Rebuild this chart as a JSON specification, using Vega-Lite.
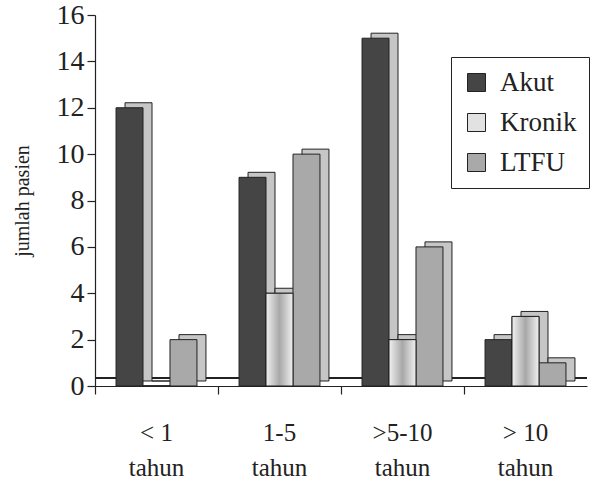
{
  "$schema": "https://vega.github.io/schema/vega-lite/v6.json",
  "width": 492,
  "height": 371,
  "autosize": {"type": "none"},
  "padding": {"left": 95, "top": 15, "right": 9, "bottom": 93},
  "background": "white",
  "config": {
    "view": {"stroke": null},
    "axis": {"domainColor": "#222", "tickColor": "#222", "labelColor": "#222", "titleColor": "#222", "grid": false, "tickSize": 8, "domainWidth": 1.2, "tickWidth": 1.2}
  },
  "data": {
    "values": [
      {"kelompok": "< 1", "seri": "Akut", "jumlah": 12},
      {"kelompok": "< 1", "seri": "Kronik", "jumlah": 0},
      {"kelompok": "< 1", "seri": "LTFU", "jumlah": 2},
      {"kelompok": "1-5", "seri": "Akut", "jumlah": 9},
      {"kelompok": "1-5", "seri": "Kronik", "jumlah": 4},
      {"kelompok": "1-5", "seri": "LTFU", "jumlah": 10},
      {"kelompok": ">5-10", "seri": "Akut", "jumlah": 15},
      {"kelompok": ">5-10", "seri": "Kronik", "jumlah": 2},
      {"kelompok": ">5-10", "seri": "LTFU", "jumlah": 6},
      {"kelompok": "> 10", "seri": "Akut", "jumlah": 2},
      {"kelompok": "> 10", "seri": "Kronik", "jumlah": 3},
      {"kelompok": "> 10", "seri": "LTFU", "jumlah": 1}
    ]
  },
  "encoding": {
    "x": {
      "field": "kelompok", "type": "nominal", "sort": ["< 1", "1-5", ">5-10", "> 10"],
      "scale": {"paddingInner": 0, "paddingOuter": 0},
      "axis": {"title": null, "labelAngle": 0, "bandPosition": 0, "labelExpr": "[datum.label, 'tahun']", "labelFont": "Liberation Serif", "labelFontSize": 25, "labelLineHeight": 35, "labelPadding": 26, "labelBaseline": "top"}
    },
    "y": {
      "field": "jumlah", "type": "quantitative",
      "scale": {"domain": [0, 16], "nice": false},
      "axis": {"values": [0, 2, 4, 6, 8, 10, 12, 14, 16], "title": "jumlah pasien", "titleFont": "Liberation Serif", "titleFontSize": 20, "titleFontWeight": "normal", "titlePadding": 24, "labelFont": "Liberation Serif", "labelFontSize": 28, "labelPadding": 3}
    }
  },
  "layer": [
    {
      "mark": {"type": "rule", "color": "#222", "strokeWidth": 1, "yOffset": -8},
      "encoding": {"y": {"datum": 0}, "x": null}
    },
    {
      "mark": {"type": "bar", "fill": "#c6c6c6", "stroke": "#222", "strokeWidth": 1, "yOffset": -5, "y2Offset": -5},
      "encoding": {
        "xOffset": {"field": "seri", "type": "nominal", "sort": ["Akut", "Kronik", "LTFU"], "scale": {"paddingInner": 0, "paddingOuter": 0.78, "range": [9, 132]}}
      }
    },
    {
      "mark": {"type": "bar", "stroke": "#222", "strokeWidth": 1},
      "encoding": {
        "xOffset": {"field": "seri", "type": "nominal", "sort": ["Akut", "Kronik", "LTFU"], "scale": {"paddingInner": 0, "paddingOuter": 0.78, "range": [0, 123]}},
        "color": {
          "field": "seri", "type": "nominal", "sort": ["Akut", "Kronik", "LTFU"],
          "scale": {"domain": ["Akut", "Kronik", "LTFU"], "range": ["#454545", "#e2e2e2", "#a9a9a9"]},
          "legend": {"title": null, "orient": "none", "legendX": 356, "legendY": 42, "padding": 12, "strokeColor": "#222", "fillColor": "white", "symbolType": "square", "symbolSize": 324, "symbolStrokeColor": "#222", "symbolStrokeWidth": 1, "labelFont": "Liberation Serif", "labelFontSize": 27, "labelColor": "#222", "labelOffset": 10, "rowPadding": 12}
        }
      }
    },
    {
      "transform": [{"filter": "datum.seri === 'Kronik'"}],
      "mark": {"type": "bar", "stroke": "#222", "strokeWidth": 1, "fill": {"gradient": "linear", "x1": 0, "x2": 1, "y1": 0, "y2": 0, "stops": [{"offset": 0, "color": "#f0f0f0"}, {"offset": 0.5, "color": "#a8a8a8"}, {"offset": 1, "color": "#f0f0f0"}]}},
      "encoding": {
        "xOffset": {"field": "seri", "type": "nominal", "sort": ["Akut", "Kronik", "LTFU"], "scale": {"domain": ["Akut", "Kronik", "LTFU"], "paddingInner": 0, "paddingOuter": 0.78, "range": [0, 123]}}
      }
    }
  ],
  "resolve": {"scale": {"xOffset": "independent"}}
}
